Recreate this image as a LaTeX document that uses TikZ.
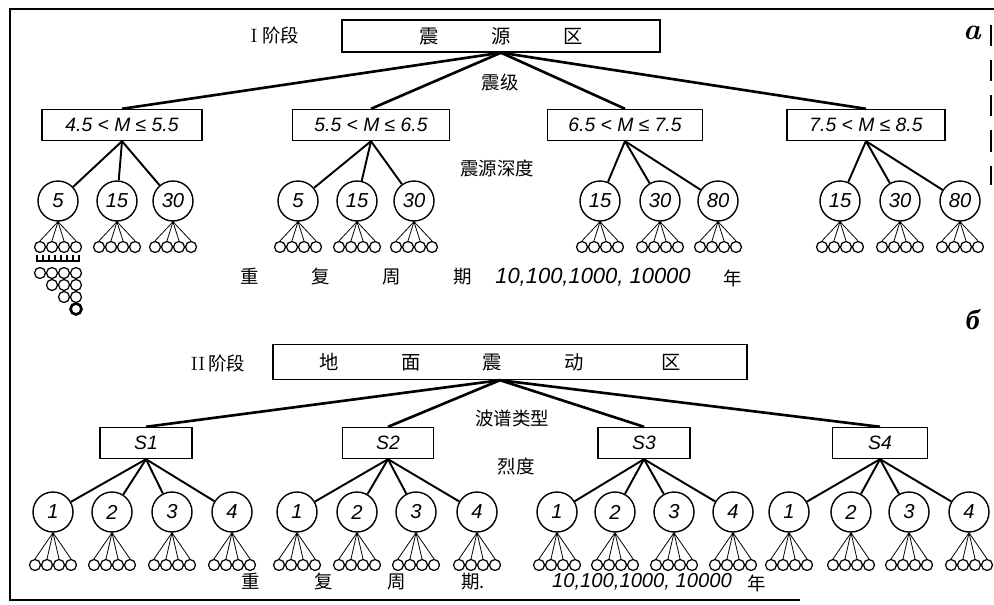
\documentclass[tikz,border=0pt]{standalone}
\usepackage{fontspec}
\usepackage{tikz}
\usetikzlibrary{calc,positioning}
\newfontfamily\cjk{Noto Sans CJK SC}
\newfontfamily\gost{Liberation Sans}
\newfontfamily\cyrfont{Liberation Serif}
\tikzset{
    % 顶层的长方框
    zonebox/.style={
        draw,
        line width=0.8pt,
        inner sep=0pt,
        font=\cjk\fontsize{11}{13}\selectfont
    },
    % 震级方框和波谱方框
    classbox/.style={
        draw,
        line width=0.8pt,
        minimum height=0.62cm,
        inner sep=0pt,
        font=\gost\itshape\fontsize{11}{13}\selectfont
    },
    % 大圆圈
    ringnode/.style={
        circle, draw, line width=0.8pt,
        minimum size=0.8cm, inner sep=0pt,
        font=\gost\itshape\fontsize{11.5}{13}\selectfont
    },
    % 小圆圈
    leafnode/.style={
        circle, draw, line width=0.7pt,
        minimum size=0.22cm, inner sep=0pt
    },
    mainline/.style={line width=1.5pt},
    subline/.style={line width=1.1pt},
    fanline/.style={line width=0.45pt},
    cjklabel/.style={font=\cjk\fontsize{10.5}{12}\selectfont, inner sep=0pt}
}

\begin{document}
\begin{tikzpicture}[x=0.02cm, y=-0.02cm]
    \useasboundingbox (0,0) rectangle (994,605);

    % 外框
    \draw[line width=1.4pt] (994,9) -- (10,9) -- (10,600) -- (800,600);
    \draw[line width=0.9pt, dash pattern=on 12pt off 8pt] (991,25) -- (991,185);

    % ===== I 阶段 =====
    \node[zonebox, minimum width=6.36cm, minimum height=0.64cm] (zy) at (501,36)
        {震\hspace{1.05cm}源\hspace{1.05cm}区};
    \node[cjklabel] (st1) at (275,35) {{\rmfamily\fontsize{11}{12}\selectfont I}\;阶段};
    \node[font=\bfseries\itshape\fontsize{17}{19}\selectfont, inner sep=0pt] (la) at (972,33) {a};
    \node[cjklabel] (zj) at (500,83) {震级};
    \node[cjklabel] (sd) at (497,168) {震源深度};

    \path
      (122,125) node[classbox, minimum width=3.2cm]  (m1) {4.5 < M ≤ 5.5}
      (371,125) node[classbox, minimum width=3.14cm] (m2) {5.5 < M ≤ 6.5}
      (625,125) node[classbox, minimum width=3.1cm]  (m3) {6.5 < M ≤ 7.5}
      (866,125) node[classbox, minimum width=3.16cm] (m4) {7.5 < M ≤ 8.5};

    \foreach \m in {m1,m2,m3,m4}
      \draw[mainline] (zy.south) -- (\m.north);

    % 震源深度圆圈
    \foreach \n/\x/\t in {d11/58/5, d12/117/15, d13/173/30,
                          d21/298/5, d22/357/15, d23/414/30,
                          d31/600/15, d32/660/30, d33/718/80,
                          d41/840/15, d42/900/30, d43/960/80}
      \node[ringnode] (\n) at (\x,201) {\t};

    \foreach \m/\n in {m1/d11, m1/d12, m1/d13, m2/d21, m2/d22, m2/d23,
                       m3/d31, m3/d32, m3/d33, m4/d41, m4/d42, m4/d43}
      \draw[subline] (\m.south) -- (\n);

    \foreach \n in {d11,d12,d13,d21,d22,d23,d31,d32,d33,d41,d42,d43}
      \foreach \dx [count=\k] in {-18,-6,6,18} {
        \node[leafnode] (\n-\k) at ($(\n)+(\dx,46)$) {};
        \draw[fanline] (\n.south) -- (\n-\k.north);
      }

    % 组合示意
    \draw[line width=0.9pt] (36,261) -- (80,261);
    \foreach \x in {37,43,49,55,61,67,73,79}
      \draw[line width=0.7pt] (\x,255) -- (\x,261);
    \path
      (40,273) node[leafnode] (t1) {}  (52,273) node[leafnode] (t2) {}
      (64,273) node[leafnode] (t3) {}  (76,273) node[leafnode] (t4) {}
      (52,285) node[leafnode] (t5) {}  (64,285) node[leafnode] (t6) {}
      (76,285) node[leafnode] (t7) {}
      (64,297) node[leafnode] (t8) {}  (76,297) node[leafnode] (t9) {}
      (76,309) node[leafnode, line width=1.5pt] (t10) {};

    \node[cjklabel] (cq1) at (356,277) {重\hspace{1.05cm}复\hspace{1.05cm}周\hspace{1.05cm}期};
    \node[font=\gost\itshape\fontsize{12.5}{14}\selectfont, inner sep=0pt] (ny1) at (593,277) {10,100,1000, 10000};
    \node[cjklabel] (yr1) at (733,278) {年};

    % ===== II 阶段 =====
    \node[zonebox, minimum width=9.48cm, minimum height=0.7cm] (dm) at (510,362)
        {\hspace*{-0.4cm}地\hspace{1.25cm}面\hspace{1.25cm}震\hspace{1.25cm}动\hspace{1.55cm}区};
    \coordinate (dmtip) at ($(dm.south)+(-10,0)$);
    \node[cjklabel] (st2) at (218,363) {{\rmfamily\fontsize{11}{12}\selectfont II}\,阶段};
    \node[font=\cyrfont\bfseries\itshape\fontsize{16}{18}\selectfont, inner sep=0pt] (lb) at (973,320) {б};
    \node[cjklabel] (bp) at (512,418) {波谱类型};
    \node[cjklabel] (ld) at (516,466) {烈度};

    \path
      (146,443) node[classbox, minimum width=1.84cm] (s1) {S1}
      (388,443) node[classbox, minimum width=1.82cm] (s2) {S2}
      (644,443) node[classbox, minimum width=1.84cm] (s3) {S3}
      (880,443) node[classbox, minimum width=1.9cm]  (s4) {S4};

    \foreach \s in {s1,s2,s3,s4}
      \draw[mainline] (dmtip) -- (\s.north);

    % 烈度圆圈
    \foreach \n/\x/\t in {i11/53/1, i12/112/2, i13/172/3, i14/232/4,
                          i21/297/1, i22/357/2, i23/416/3, i24/477/4,
                          i31/557/1, i32/615/2, i33/674/3, i34/733/4,
                          i41/789/1, i42/851/2, i43/909/3, i44/969/4}
      \node[ringnode] (\n) at (\x,512) {\t};

    \foreach \s/\n in {s1/i11, s1/i12, s1/i13, s1/i14, s2/i21, s2/i22, s2/i23, s2/i24,
                       s3/i31, s3/i32, s3/i33, s3/i34, s4/i41, s4/i42, s4/i43, s4/i44}
      \draw[subline] (\s.south) -- (\n);

    \foreach \n in {i11,i12,i13,i14,i21,i22,i23,i24,i31,i32,i33,i34,i41,i42,i43,i44}
      \foreach \dx [count=\k] in {-18,-6,6,18} {
        \node[leafnode] (\n-\k) at ($(\n)+(\dx,53)$) {};
        \draw[fanline] (\n.south) -- (\n-\k.north);
      }

    \node[cjklabel] (cq2) at (363,582) {重\hspace{1.1cm}复\hspace{1.1cm}周\hspace{1.1cm}期.};
    \node[font=\gost\itshape\fontsize{11.5}{13}\selectfont, inner sep=0pt] (ny2) at (642,582) {10,100,1000, 10000};
    \node[cjklabel] (yr2) at (757,583) {年};

\end{tikzpicture}
\end{document}
